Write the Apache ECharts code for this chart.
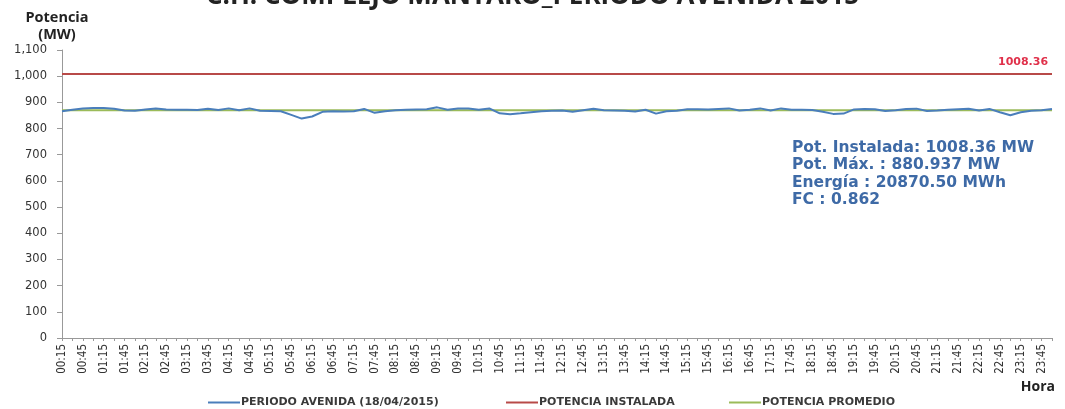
<!DOCTYPE html>
<html>
<head>
<meta charset="utf-8">
<script src="https://cdn.jsdelivr.net/npm/echarts@6/dist/echarts.min.js"></script>
<style>
html,body{margin:0;padding:0;background:#fff;}
#chart{width:1065px;height:409px;}
</style>
</head>
<body>
<div id="chart"></div>
<script>
// ---- data ----
const categories = [
 "00:15","00:30","00:45","01:00","01:15","01:30","01:45","02:00","02:15","02:30","02:45","03:00",
 "03:15","03:30","03:45","04:00","04:15","04:30","04:45","05:00","05:15","05:30","05:45","06:00",
 "06:15","06:30","06:45","07:00","07:15","07:30","07:45","08:00","08:15","08:30","08:45","09:00",
 "09:15","09:30","09:45","10:00","10:15","10:30","10:45","11:00","11:15","11:30","11:45","12:00",
 "12:15","12:30","12:45","13:00","13:15","13:30","13:45","14:00","14:15","14:30","14:45","15:00",
 "15:15","15:30","15:45","16:00","16:15","16:30","16:45","17:00","17:15","17:30","17:45","18:00",
 "18:15","18:30","18:45","19:00","19:15","19:30","19:45","20:00","20:15","20:30","20:45","21:00",
 "21:15","21:30","21:45","22:00","22:15","22:30","22:45","23:00","23:15","23:30","23:45","00:00"
];
const periodoAvenida = [
 866,872,877,878,878,876,869,868,873,877,873,872,
 872,871,876,871,877,870,877,868,867,866,852,838,
 846,864,866,865,866,875,860,866,870,872,873,874,
 880.937,872,877,877,872,877,858,855,858,862,866,868,
 869,864,870,876,870,869,868,865,872,857,866,868,
 874,874,873,875,877,869,872,877,869,877,872,872,
 871,864,856,857,873,875,874,867,870,875,876,867,
 869,872,874,876,869,875,862,851,862,868,870,875
];
const potenciaInstalada = 1008.36;
const potenciaPromedio = 869.60;
const yTicks = [0,100,200,300,400,500,600,700,800,900,1000,1100];
const infoLines = [
 "Pot. Instalada: 1008.36 MW",
 "Pot. Máx. : 880.937 MW",
 "Energía : 20870.50 MWh",
 "FC : 0.862"
];
const seriesNames = ["PERIODO AVENIDA (18/04/2015)","POTENCIA INSTALADA","POTENCIA PROMEDIO"];

// ---- chart ----
const chart = echarts.init(document.getElementById('chart'), null, {renderer:'canvas'});
const instData = categories.map(() => potenciaInstalada);
const promData = categories.map(() => potenciaPromedio);

const legendLefts = [203, 501, 724];
const legends = seriesNames.map((n, i) => ({
  top: 392,
  left: legendLefts[i],
  itemWidth: 32,
  itemHeight: 2,
  icon: 'rect',
  data: [n],
  textStyle: {fontFamily: 'DejaVu Sans', fontSize: 11, fontWeight: 'bold', color: '#3a3a3a', padding: [0,0,0,-4]}
}));

const option = {
  backgroundColor: '#ffffff',
  animation: false,
  title: {
    text: 'C.H. COMPLEJO MANTARO_PERIODO AVENIDA 2015',
    left: 'center',
    top: -21,
    textStyle: {fontFamily: 'Open Sans', fontWeight: 'bold', fontSize: 26, color: '#222'}
  },
  grid: {left: 62, right: 13, top: 50, bottom: 71, containLabel: false},
  legend: legends,
  xAxis: {
    type: 'category',
    data: categories,
    boundaryGap: false,
    axisLine: {lineStyle: {color: '#999', width: 1}},
    axisTick: {show: true, interval: 0, length: 3, lineStyle: {color: '#999'}},
    axisLabel: {
      interval: 1,
      rotate: 90,
      fontFamily: 'Liberation Sans Narrow, DejaVu Sans Condensed, sans-serif',
      fontSize: 11.5,
      color: '#333',
      margin: 6
    }
  },
  yAxis: {
    type: 'value',
    min: yTicks[0],
    max: yTicks[yTicks.length - 1],
    interval: 100,
    splitLine: {show: false},
    axisLine: {show: true, lineStyle: {color: '#999', width: 1}},
    axisTick: {show: true, inside: false, length: 5, lineStyle: {color: '#999'}},
    axisLabel: {
      fontFamily: 'DejaVu Sans',
      fontSize: 11.5,
      color: '#333',
      margin: 15,
      formatter: v => v.toLocaleString('en-US')
    }
  },
  graphic: [
    {type: 'text', x: 57, y: 9,
     style: {text: 'Potencia\n(MW)', align: 'center', fontFamily: 'Open Sans', fontWeight: 'bold', fontSize: 14.5, lineHeight: 17, fill: '#222'}},
    {type: 'text', right: 10, top: 380,
     style: {text: 'Hora', fontFamily: 'Open Sans', fontWeight: 'bold', fontSize: 14, fill: '#222'}},
    {type: 'text', left: 792, top: 139,
     style: {text: infoLines.join('\n'), fontFamily: 'DejaVu Sans', fontWeight: 'bold', fontSize: 15.5, lineHeight: 17.5, fill: '#3e6aa6'}}
  ],
  series: [
    {
      name: seriesNames[0], type: 'line', data: periodoAvenida,
      symbol: 'none', smooth: false,
      lineStyle: {color: '#4a7ebb', width: 2},
      itemStyle: {color: '#4a7ebb'},
      z: 3
    },
    {
      name: seriesNames[1], type: 'line', data: instData,
      symbol: 'none',
      lineStyle: {color: '#b84a48', width: 2},
      itemStyle: {color: '#b84a48'},
      endLabel: {
        show: true,
        offset: [-62, -12],
        formatter: () => potenciaInstalada.toFixed(2),
        fontFamily: 'DejaVu Sans', fontWeight: 'bold', fontSize: 11, color: '#e0304a'
      },
      z: 2
    },
    {
      name: seriesNames[2], type: 'line', data: promData,
      symbol: 'none',
      lineStyle: {color: '#9bbb59', width: 2},
      itemStyle: {color: '#9bbb59'},
      z: 2
    }
  ]
};
chart.setOption(option);
</script>
</body>
</html>
